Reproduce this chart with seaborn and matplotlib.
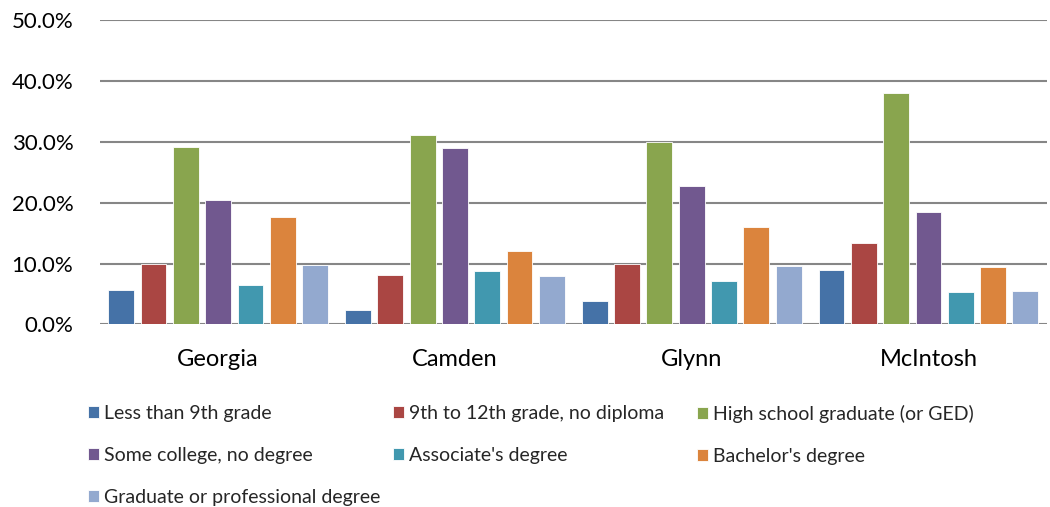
import pandas as pd
import matplotlib.pyplot as plt
import seaborn as sns
from matplotlib.ticker import PercentFormatter

# Data
counties = ['Georgia', 'Camden', 'Glynn', 'McIntosh']
levels = ['Less than 9th grade', '9th to 12th grade, no diploma', 'High school graduate (or GED)',
          'Some college, no degree', "Associate's degree", "Bachelor's degree",
          'Graduate or professional degree']
less_9th = [5.7, 2.3, 3.8, 9.0]
grade_9_12 = [10.0, 8.2, 9.9, 13.4]
high_school = [29.2, 31.1, 30.0, 38.0]
some_college = [20.4, 28.9, 22.8, 18.5]
associate = [6.5, 8.7, 7.2, 5.4]
bachelor = [17.6, 12.1, 16.0, 9.5]
graduate = [9.7, 8.0, 9.6, 5.5]

colors = ['#4572A7', '#AA4643', '#89A54E', '#71588F', '#4198AF', '#DB843D', '#93A9CF']

series = [less_9th, grade_9_12, high_school, some_college, associate, bachelor, graduate]
rows = []
for level, vals in zip(levels, series):
    for county, v in zip(counties, vals):
        rows.append({'County': county, 'Level': level, 'Share': v / 100})
df = pd.DataFrame(rows)

sns.set_theme(style='white')
plt.rcParams['font.family'] = ['Lato', 'DejaVu Sans']

fig = plt.figure(figsize=(10.5, 5.07), dpi=100)
ax = fig.add_axes([0.095, 0.36, 0.902, 0.601])

sns.barplot(data=df, x='County', y='Share', hue='Level', hue_order=levels, order=counties,
            palette=colors, width=0.955, gap=0.2, saturation=1, edgecolor='white',
            linewidth=0.6, ax=ax, legend=True)

ax.set_ylim(0, 0.5)
ax.set_yticks([0, 0.1, 0.2, 0.3, 0.4, 0.5])
ax.yaxis.set_major_formatter(PercentFormatter(1.0, decimals=1))
ax.grid(axis='y', color='#868686', linewidth=1.5)
ax.set_axisbelow(True)
for s in ax.spines.values():
    s.set_visible(False)
ax.set_xlabel('')
ax.set_ylabel('')
ax.tick_params(axis='y', length=0, pad=19, labelsize=16, colors='black')
ax.tick_params(axis='x', length=0, pad=18, labelsize=17, colors='black')

handles, labels = ax.get_legend_handles_labels()
ax.get_legend().remove()

# legend laid out row by row in three columns
cols = [[0, 3, 6], [1, 4], [2, 5]]
xs = [88, 393, 697]
for idx, x in zip(cols, xs):
    fig.legend([handles[i] for i in idx], [labels[i] for i in idx],
               loc='upper left', bbox_to_anchor=(x / 1050, 1 - 405 / 507),
               frameon=False, fontsize=14, handlelength=0.58, handleheight=0.58,
               handletextpad=0.25, labelspacing=1.28, borderpad=0, borderaxespad=0)

fig.savefig('out.png', dpi=100)
